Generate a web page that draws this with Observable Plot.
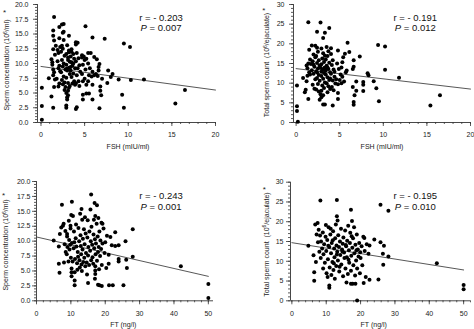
<!DOCTYPE html>
<html><head><meta charset="utf-8">
<script src="https://cdn.jsdelivr.net/npm/d3@7"></script>
<script src="https://cdn.jsdelivr.net/npm/@observablehq/plot@0.6"></script>
<style>
body{margin:0;background:#fff;}
#wrap{position:relative;width:474px;height:329px;overflow:hidden;font-family:"Liberation Sans",Arial,sans-serif;}
#wrap svg{position:absolute;overflow:visible;}
</style></head><body><div id="wrap"></div>
<script>
// Panel A: FSH (mIU/ml) vs sperm concentration
const fshConc = [[1.5,17.9],[0.1,0.45],[0.1,2.8],[0.1,5.9],[1.2,4.4],[1.4,2.5],[1.4,15.6],[1.4,14.7],[1.5,13.9],[2.1,16.2],[2.4,16.6],[2.6,16.7],[2.6,15.4],[3.2,14.7],[5.1,16.3],[5.9,14.4],[7.3,14.2],[9.5,13.4],[10.2,12.8],[4.0,13.6],[4.0,13.2],[16.5,5.5],[15.4,3.2],[11.8,7.3],[10.3,7.2],[9.3,4.7],[9.5,2.5],[8.9,7.3],[8.2,8.2],[8.0,7.7],[7.7,8.8],[7.6,6.7],[6.8,6.1],[6.8,5.4],[6.9,4.6],[6.7,2.4],[6.7,9.9],[6.6,9.4],[6.6,8.8],[6.1,8.0],[5.9,3.9],[5.5,4.9],[5.4,11.8],[5.7,11.8],[6.1,11.1],[4.9,11.2],[4.7,11.4],[5.2,10.8],[4.8,4.7],[5.2,4.9],[4.8,3.9],[4.1,2.6],[4.0,2.3],[2.9,2.9],[2.9,2.5],[3.0,3.9],[3.1,4.6],[3.1,5.4],[3.2,5.9],
[0.9,7.5],[1.2,10.7],[1.3,10.2],[1.3,9.8],[1.4,9.0],[1.5,8.5],[1.4,8.0],[1.6,7.3],[1.5,6.0],[1.4,12.4],[1.6,11.5],[1.7,13.0],
[1.9,12.3],[2.0,11.8],[1.9,10.4],[2.1,9.6],[2.0,9.2],[2.2,8.7],[1.8,7.4],[2.1,6.6],[2.0,6.1],[2.2,12.8],[2.1,14.3],
[2.4,13.0],[2.5,12.5],[2.3,12.0],[2.7,11.3],[2.4,10.6],[2.6,10.0],[2.5,9.5],[2.8,9.0],[2.3,8.5],[2.6,7.8],[2.4,7.2],[2.7,6.8],[2.5,6.5],[2.8,6.0],[2.6,14.0],[2.5,15.2],[2.7,5.5],
[3.0,13.1],[3.2,12.2],[2.9,11.6],[3.1,11.0],[3.3,10.3],[2.9,9.8],[3.2,9.3],[3.0,8.8],[3.3,8.2],[2.9,7.6],[3.1,6.7],[3.3,6.2],[2.9,5.0],[3.0,4.3],[3.2,11.9],[3.1,10.6],[2.95,9.1],
[3.5,12.0],[3.7,11.6],[3.4,11.2],[3.8,10.8],[3.5,10.2],[3.6,9.6],[3.9,9.2],[3.4,8.8],[3.7,8.3],[3.5,7.7],[3.8,7.0],[3.6,6.6],[3.9,6.4],[3.5,12.4],[3.4,9.4],[3.7,10.0],
[4.1,11.8],[4.3,10.9],[4.0,10.4],[4.4,9.7],[4.2,9.2],[4.5,8.6],[4.1,8.0],[4.3,7.0],[4.0,6.6],[4.4,6.2],[4.2,13.5],
[4.7,11.0],[5.0,10.6],[4.8,9.8],[5.1,9.0],[4.7,8.2],[5.0,7.4],[4.8,7.0],[5.2,6.4],
[5.4,10.0],[5.6,9.2],[5.9,8.6],[5.5,8.0],[5.8,7.8],[5.4,7.0],[5.9,6.4],
[6.3,8.2],[6.5,7.9],[7.0,7.4],[6.4,10.7]];

// Panel B: FSH vs total sperm count
const fshCount = [[1.4,25.5],[2.8,25.4],[2.4,23.1],[3.3,22.8],[3.8,24.0],[3.1,21.5],[5.9,20.3],[9.4,19.7],[10.2,19.3],[10.2,13.4],[11.8,11.4],[16.5,6.9],[15.4,4.3],[9.5,5.4],[9.2,8.7],[8.9,10.5],[8.2,12.5],[8.3,12.0],[7.7,10.3],[7.7,9.6],[7.7,8.0],[6.9,10.4],[6.9,8.1],[6.7,6.9],[6.6,15.8],[6.6,14.2],[6.5,13.6],[7.3,16.8],[6.6,5.2],[6.6,4.5],[6.5,9.0],[6.1,17.9],[5.6,17.5],[5.4,16.6],[5.3,15.3],[5.7,12.8],[5.8,13.2],[4.8,18.3],[4.8,7.5],[4.8,6.0],[5.2,10.0],[4.2,4.3],[3.1,4.6],[3.3,4.6],[2.7,5.8],[2.9,6.4],[1.4,6.0],[0.1,9.4],[0.1,4.1],[0.1,2.9],[0.2,0.2],[1.0,7.7],[1.1,8.3],[0.8,11.3],
[1.2,14.5],[1.3,13.8],[1.4,15.0],[1.5,12.8],[1.3,11.9],[1.5,18.5],[1.6,16.0],[1.2,10.5],
[1.8,19.6],[2.0,17.3],[1.9,15.6],[2.1,14.2],[1.8,13.3],[2.0,12.4],[2.2,11.0],[1.9,9.6],[2.1,8.6],[2.2,16.6],
[2.4,19.0],[2.5,18.0],[2.3,16.9],[2.6,15.8],[2.4,15.1],[2.7,14.5],[2.5,13.7],[2.3,13.0],[2.6,12.1],[2.4,11.3],[2.7,10.6],[2.5,9.8],[2.3,8.4],[2.6,7.9],[2.8,7.2],[2.2,19.5],
[2.9,18.8],[3.1,17.6],[3.0,16.3],[3.2,15.4],[2.9,14.8],[3.3,14.0],[3.0,13.4],[3.2,12.6],[2.9,11.8],[3.1,11.1],[3.3,10.2],[3.0,9.4],[3.2,8.8],[2.9,8.1],[3.1,6.9],[3.3,17.0],
[3.5,19.2],[3.7,18.1],[3.6,16.9],[3.4,16.0],[3.8,15.2],[3.5,14.4],[3.7,13.6],[3.9,12.8],[3.4,12.2],[3.6,11.5],[3.8,10.8],[3.5,10.0],[3.7,9.2],[3.9,8.5],[3.6,7.7],[3.4,13.2],
[4.0,17.4],[4.2,15.8],[4.1,14.6],[4.3,13.5],[4.0,12.4],[4.4,11.6],[4.2,10.7],[4.5,9.9],[4.1,9.0],[4.3,8.2],[4.0,18.9],
[4.7,15.0],[4.9,13.6],[5.1,12.2],[4.6,11.0],[5.0,10.8],[4.8,9.7],[5.2,14.0],[5.3,11.6],[5.5,10.4],
[1.7,14.9],[2.0,14.7],[2.8,13.9],[3.2,13.8],[3.6,14.0],[2.4,12.7],[2.9,12.9],[3.9,11.2],[4.4,12.9],[1.6,12.2]];

// Panel C: FT (ng/l) vs sperm concentration
const ftConc = [[50,2.8],[50,0.45],[42,5.8],[28,12.0],[28,7.4],[26.3,5.5],[26.1,6.9],[25.9,10.0],[25.3,2.6],[22.9,11.5],[23.9,9.3],[22.9,9.2],[21.9,9.3],[23.9,7.0],[23.9,6.6],[21.0,7.7],[21.0,6.2],[21.5,10.7],[20.5,10.9],[21.1,2.6],[22.2,2.6],[19.0,2.5],[18.3,2.6],[17.9,2.7],[20.3,5.5],[7.4,16.1],[10.3,16.6],[15.9,17.8],[16.9,16.4],[17.6,16.0],[15.7,15.3],[13.1,15.4],[18.9,13.1],[19.2,12.9],[18.0,13.9],[17.1,14.2],[5.0,10.1],[6.5,9.1],[6.5,6.2],[6.7,4.7],[7.2,12.3],[7.7,12.6],[7.9,12.9],[8.4,11.7],[8.9,11.2],[8.9,10.8],[10.1,14.4],[10.6,14.2],[9.9,12.6],[11.1,4.8],[11.1,3.4],[11.1,2.6],[10.2,5.4],[10.2,4.8],[10.2,4.1],[15.0,3.0],[17.1,5.8],[17.1,5.1],[17.1,4.5],[17.0,3.7],[6.8,11.2],[9.9,12.1],
[8.2,9.5],[8.5,8.2],[8.8,7.8],[9.0,9.0],[9.3,6.6],[9.6,8.6],[9.8,9.4],[10.0,7.2],[10.3,9.7],[10.5,6.6],[10.8,8.8],[11.0,9.8],[11.2,7.0],[11.4,10.5],[11.6,9.1],[11.8,6.3],[12.0,8.2],[12.2,12.2],[12.1,7.4],[12.4,10.0],[12.5,6.8],[12.6,5.6],[12.8,11.0],[12.9,9.2],[13.0,7.8],[13.1,6.1],[13.3,13.6],[13.4,8.6],[13.5,10.4],[13.6,6.5],[13.8,12.0],[13.9,7.2],[14.0,9.5],[14.2,5.8],[14.3,11.3],[14.4,8.0],[14.6,6.4],[14.8,10.6],[14.9,13.5],[15.0,7.6],[15.1,9.0],[15.3,6.0],[15.4,11.6],[15.6,8.4],[15.8,10.0],[15.9,6.8],[16.0,12.4],[16.2,9.4],[16.3,7.3],[16.5,6.2],[16.6,11.1],[16.8,8.8],[17.0,10.3],[17.2,7.8],[17.3,9.6],[17.5,12.9],[17.6,6.7],[17.8,10.8],[17.9,8.2],[18.1,9.0],[18.3,11.6],[18.5,7.5],[18.6,10.1],[18.8,8.7],[19.0,6.0],[19.2,9.6],[19.5,12.1],[19.8,8.0],[20.0,9.8],[9.5,10.2],[10.9,11.6],[11.5,12.8],[12.7,14.6],[14.1,14.0],[11.9,5.2],[13.2,5.0],[14.7,4.4],[9.4,13.4],[8.0,6.4],[16.7,13.6],[18.2,5.3]];

// Panel D: FT vs total sperm count
const ftCount = [[50,4.0],[50,2.9],[42.2,9.5],[28.1,22.8],[28.1,11.2],[25.8,24.3],[8.3,25.4],[13.1,25.5],[17.2,23.0],[13.1,21.4],[4.8,13.9],[6.3,11.5],[6.5,7.2],[6.5,5.1],[7.0,9.8],[7.5,19.7],[6.8,19.3],[19.0,0.1],[22.6,5.3],[20.9,4.5],[25.2,5.4],[25.8,14.8],[26.5,11.9],[26.6,9.1],[26.8,13.9],[24.0,15.5],[22.6,14.0],[22.3,11.9],[21.1,15.9],[19.9,12.3],[17.2,4.3],[17.7,4.3],[18.5,4.3],[10.9,3.9],[10.9,3.3],[10.4,6.0],
[7.8,18.0],[8.2,16.5],[8.5,15.0],[8.8,13.2],[9.0,17.3],[9.2,11.8],[9.4,14.3],[9.6,9.6],[9.8,16.2],[10.0,12.6],[10.1,7.0],[10.3,15.4],[10.5,10.5],[10.7,18.6],[10.9,13.6],[11.0,8.4],[11.2,16.8],[11.4,12.0],[11.6,14.6],[11.8,9.8],[12.0,17.6],[12.1,7.8],[12.3,13.2],[12.4,11.0],[12.6,15.8],[12.8,19.3],[12.9,8.8],[13.0,14.0],[13.2,12.4],[13.4,10.2],[13.5,16.6],[13.7,13.6],[13.8,7.4],[14.0,15.0],[14.1,11.6],[14.3,18.2],[14.4,9.2],[14.6,13.0],[14.8,14.4],[14.9,6.2],[15.0,16.0],[15.2,12.2],[15.3,10.8],[15.5,17.8],[15.6,8.2],[15.8,13.8],[16.0,11.0],[16.1,15.2],[16.3,6.8],[16.4,19.0],[16.6,12.8],[16.7,9.6],[16.9,14.6],[17.0,17.2],[17.2,7.6],[17.3,11.4],[17.5,20.2],[17.6,13.4],[17.8,15.8],[17.9,9.0],[18.1,18.6],[18.2,12.0],[18.4,6.4],[18.5,14.2],[18.7,10.2],[18.9,16.8],[19.0,8.2],[19.2,13.0],[19.4,11.2],[19.6,14.6],[19.8,7.0],[20.0,10.8],[20.3,13.8],[20.5,9.0],[20.8,16.2],[21.2,12.6],[21.5,6.0],[21.8,14.3],[8.0,12.4],[8.4,10.8],[9.1,8.2],[11.3,18.2],[12.5,5.6],[13.3,20.3],[15.9,4.6],[7.6,14.8],[7.2,16.8],[9.9,19.2],[11.5,6.5],
[10.6,13.9],[11.9,15.3],[13.1,11.7],[14.7,12.5],[15.7,14.1],[16.5,10.4],[12.2,9.5],[13.9,8.6],[17.4,16.3],[18.8,12.8]];

// Regression line endpoints [x, y]
const regA = [[0,9.5],[20,5.5]];
const regB = [[0,13.7],[20,8.5]];
const regC = [[0,10.7],[50,4.1]];
const regD = [[0,14.7],[50,7.8]];

// Statistics
const statR = ["- 0.203","- 0.191","- 0.243","- 0.195"];
const statP = ["0.007","0.012","0.001","0.010"];

// Axis titles and ticks
const xTitles = ["FSH (mIU/ml)","FSH (mIU/ml)","FT (ng/l)","FT (ng/l)"];
const yTitleConc = ["Sperm concentration (10","6","/ml)"];
const yTitleCount = ["Total sperm count  (10","6","/ejaculate)"];
const fshTicks = [0,5,10,15,20];
const ftTicks = [0,10,20,30,40,50];
const concTicks = [0,2.5,5,7.5,10,12.5,15,17.5,20];
const countTicks = [0,5,10,15,20,25,30];

const wrap = document.getElementById("wrap");
const INK = "#222", AX = "#333";
const FF = '"Liberation Sans", Arial, sans-serif';

function panel(o) {
  const svg = Plot.plot({
    width: o.w, height: o.h,
    marginLeft: o.mL, marginRight: o.mR, marginTop: o.mT, marginBottom: o.mB,
    x: {domain: o.xd}, y: {domain: o.yd},
    style: {fontFamily: FF, fontSize: "7px", color: INK, background: "transparent", overflow: "visible"},
    marks: [
      Plot.ruleX([o.xd[0]], {stroke: AX, strokeWidth: 0.9}),
      Plot.ruleY([o.yd[0]], {stroke: AX, strokeWidth: 0.9}),
      Plot.axisX(o.xMajor, {anchor: "bottom", tickSize: 4, tickPadding: 6, stroke: AX, strokeWidth: 0.8, fill: INK, fontSize: 7, label: null, tickFormat: d3.format("d")}),
      Plot.axisX(o.xMinor, {anchor: "bottom", tickSize: 2, stroke: AX, strokeWidth: 0.8, text: null, label: null}),
      Plot.axisY(o.yMajor, {anchor: "left", tickSize: 4, tickPadding: o.yPad, stroke: AX, strokeWidth: 0.8, fill: INK, fontSize: 7, label: null, tickFormat: o.yFmt}),
      Plot.axisY(o.yMinor, {anchor: "left", tickSize: 2, stroke: AX, strokeWidth: 0.8, text: null, label: null}),
      Plot.line(o.reg, {x: d => d[0], y: d => d[1], stroke: "#444", strokeWidth: 0.9}),
      Plot.dot(o.data, {x: d => d[0], y: d => d[1], r: 2, fill: "#000", stroke: null})
    ]
  });
  svg.style.left = o.left + "px";
  svg.style.top = o.top + "px";
  const s = d3.select(svg);
  const yt = s.append("text")
    .attr("transform", `translate(${o.ytx},${o.yty}) rotate(-90)`)
    .attr("text-anchor", "middle").attr("dy", "0.35em")
    .attr("font-size", 7).attr("fill", INK).attr("font-family", FF);
  yt.append("tspan").text(o.yTitle[0]);
  yt.append("tspan").attr("font-size", 5).attr("dy", "-2.5").text(o.yTitle[1]);
  yt.append("tspan").attr("dy", "2.5").text(o.yTitle[2]);
  s.append("text").attr("x", o.astx).attr("y", o.asty).attr("text-anchor", "middle")
    .attr("font-size", 8).attr("fill", INK).attr("font-family", FF).text("*");
  s.append("text").attr("x", o.xtx).attr("y", o.xty).attr("text-anchor", "middle")
    .attr("font-size", 7).attr("fill", INK).attr("font-family", FF).text(o.xTitle);
  s.append("text").attr("x", o.sx).attr("y", o.sy).attr("font-size", 9.5).attr("fill", "#111")
    .attr("font-family", FF).text("r = " + o.r);
  const pt = s.append("text").attr("x", o.sx).attr("y", o.sy + 10.5).attr("font-size", 9.5).attr("fill", "#111")
    .attr("font-family", FF);
  pt.append("tspan").attr("font-style", "italic").text("P");
  pt.append("tspan").text(" = " + o.p);
  wrap.appendChild(svg);
}

const fmt1 = d3.format(".1f"), fmt0 = d3.format("d");

panel({left: 0, top: 0, w: 237, h: 165, mL: 37, mR: 22, mT: 4, mB: 43,
  xd: [-0.4, 20], yd: [0, 20], xMajor: fshTicks, xMinor: d3.range(0, 21, 1),
  yMajor: concTicks, yMinor: d3.range(0, 20.01, 0.5), yFmt: fmt1, yPad: 5,
  reg: regA, data: fshConc, yTitle: yTitleConc, ytx: 7, yty: 65, astx: 4.5, asty: 15,
  xTitle: xTitles[0], xtx: 128, xty: 148.5, sx: 161, sy: 20.7, r: statR[0], p: statP[0]});

panel({left: 237, top: 0, w: 237, h: 165, mL: 56, mR: 4, mT: 4, mB: 43,
  xd: [-0.3, 20], yd: [0, 30], xMajor: fshTicks, xMinor: d3.range(0, 21, 1),
  yMajor: countTicks, yMinor: d3.range(0, 30.01, 1), yFmt: fmt0, yPad: 5,
  reg: regB, data: fshCount, yTitle: yTitleCount, ytx: 30, yty: 65, astx: 26.7, asty: 13,
  xTitle: xTitles[1], xtx: 145, xty: 148.5, sx: 178.3, sy: 20.7, r: statR[1], p: statP[1]});

panel({left: 0, top: 165, w: 237, h: 164, mL: 36, mR: 24, mT: 16, mB: 28.7,
  xd: [0, 51.5], yd: [0, 20], xMajor: ftTicks, xMinor: d3.range(0, 52, 2),
  yMajor: concTicks, yMinor: d3.range(0, 20.01, 0.5), yFmt: fmt1, yPad: 2,
  reg: regC, data: ftConc, yTitle: yTitleConc, ytx: 6, yty: 80, astx: 3.5, asty: 33,
  xTitle: xTitles[2], xtx: 123.3, xty: 162, sx: 161, sy: 34.3, r: statR[2], p: statP[2]});

panel({left: 237, top: 165, w: 237, h: 164, mL: 53, mR: 4, mT: 16.7, mB: 28.7,
  xd: [-0.4, 52], yd: [0, 30], xMajor: ftTicks, xMinor: d3.range(0, 53, 2),
  yMajor: countTicks, yMinor: d3.range(0, 30.01, 1), yFmt: fmt0, yPad: 3,
  reg: regD, data: ftCount, yTitle: yTitleCount, ytx: 29.3, yty: 79.5, astx: 27.3, asty: 27,
  xTitle: xTitles[3], xtx: 136.7, xty: 162, sx: 178.3, sy: 34.3, r: statR[3], p: statP[3]});
</script>
</body></html>
